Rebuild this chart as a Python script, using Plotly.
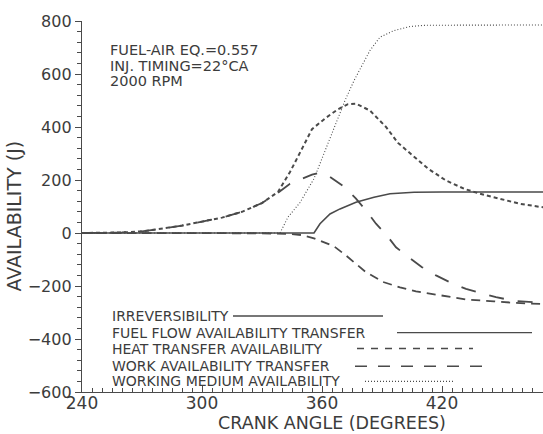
import plotly.graph_objects as go

# ---- data ----
wm_angle = [240, 260, 270, 280, 290, 300, 310, 320, 330, 338, 344, 350, 355, 362, 368, 373, 377, 384, 392, 398, 405, 413, 422, 431, 439, 449, 459, 470.5]
wm_value = [0, 2, 6, 16, 28, 43, 58, 80, 113, 155, 230, 318, 392, 435, 467, 486, 488, 462, 400, 340, 295, 243, 198, 167, 148, 129, 110, 97]

work_angle = [240, 260, 270, 280, 290, 300, 310, 320, 330, 338, 344, 350, 355, 359, 364, 371, 377, 382, 387, 392, 397, 404, 410, 417, 424, 432, 440, 447, 456, 470.5]
work_value = [0, 2, 6, 16, 28, 43, 58, 80, 113, 152, 186, 205, 220, 228, 212, 175, 130, 85, 35, -5, -54, -95, -129, -160, -186, -211, -229, -242, -256, -263]

heat_angle = [240, 300, 330, 345, 350, 356, 362, 366, 372, 377, 382, 391, 399, 407, 419, 432, 446, 457, 470.5]
heat_value = [0, 0, -1, -4, -8, -20, -38, -50, -85, -118, -148, -186, -205, -220, -236, -251, -258, -264, -268]

irr_angle = [240, 356, 359, 364, 369, 377, 386, 394, 406, 420, 470.5]
irr_value = [0, 0, 35, 72, 91, 116, 135, 148, 154, 155, 155]

fuel_angle = [240, 339, 343, 349, 356, 362, 367, 371.5, 376, 384, 389, 396, 404, 412, 470.5]
fuel_value = [0, 0, 60, 115, 205, 318, 418, 500, 575, 689, 739, 764, 779, 784, 785]

x_ticks = [240, 300, 360, 420]
y_ticks = [-600, -400, -200, 0, 200, 400, 600, 800]

info_lines = ["FUEL-AIR EQ.=0.557", "INJ. TIMING=22°CA", "2000 RPM"]
legend_labels = ["IRREVERSIBILITY", "FUEL FLOW AVAILABILITY TRANSFER",
                 "HEAT TRANSFER AVAILABILITY", "WORK AVAILABILITY TRANSFER",
                 "WORKING MEDIUM AVAILABILITY"]

LC = "#4a4a4a"
TC = "#3c3c3c"
FONT = "DejaVu Sans"

fig = go.Figure()
fig.add_trace(go.Scatter(x=irr_angle, y=irr_value, mode="lines",
                         line=dict(color=LC, width=1.6)))
fig.add_trace(go.Scatter(x=fuel_angle, y=fuel_value, mode="lines",
                         line=dict(color=LC, width=1.1, dash="1px,2px")))
fig.add_trace(go.Scatter(x=heat_angle, y=heat_value, mode="lines",
                         line=dict(color=LC, width=1.8, dash="9px,6px")))
fig.add_trace(go.Scatter(x=work_angle, y=work_value, mode="lines",
                         line=dict(color=LC, width=1.8, dash="15px,14px")))
fig.add_trace(go.Scatter(x=wm_angle, y=wm_value, mode="lines",
                         line=dict(color=LC, width=2.0, dash="4px,3px")))

# info text
info_y = [689, 632, 575]
for t, yy in zip(info_lines, info_y):
    fig.add_annotation(x=253, y=yy, xref="x", yref="y", text=t, showarrow=False,
                       xanchor="left", yanchor="middle",
                       font=dict(family=FONT, size=14.5, color=TC))

# legend (text followed by line sample)
leg_y = [-313, -376, -436, -503, -560]
leg_x0 = [315.5, 397.5, 377.5, 376.5, 381.5]
leg_x1 = [390.5, 465, 435.5, 444, 425.5]
leg_dash = ["solid", "solid", "7px,7px", "12px,11px", "1px,2px"]
leg_w = [1.4, 1.4, 1.6, 1.6, 1.1]
for t, yy, a, b, d, w in zip(legend_labels, leg_y, leg_x0, leg_x1, leg_dash, leg_w):
    fig.add_annotation(x=254, y=yy, xref="x", yref="y", text=t, showarrow=False,
                       xanchor="left", yanchor="middle",
                       font=dict(family=FONT, size=14, color=TC))
    fig.add_shape(type="line", xref="x", yref="y", x0=a, x1=b, y0=yy, y1=yy,
                  line=dict(color=LC, width=w, dash=d))

# axis titles
fig.add_annotation(x=0.542, y=-0.083, xref="paper", yref="paper",
                   text="CRANK ANGLE (DEGREES)", showarrow=False,
                   xanchor="center", yanchor="middle",
                   font=dict(family=FONT, size=17.5, color=TC))
fig.add_annotation(x=-0.148, y=0.475, xref="paper", yref="paper",
                   text="AVAILABILITY (J)", showarrow=False, textangle=-90,
                   xanchor="center", yanchor="middle",
                   font=dict(family=FONT, size=19, color=TC))

fig.update_layout(
    width=543, height=434,
    margin=dict(l=82, r=0, t=21, b=42),
    paper_bgcolor="white", plot_bgcolor="white",
    showlegend=False,
)
fig.update_xaxes(range=[240, 470.5], tickvals=x_ticks, ticks="inside", ticklen=6,
                 tickcolor=LC, tickwidth=1.2, ticklabelstandoff=-5,
                 showline=True, linecolor=LC, linewidth=1.4, showgrid=False,
                 zeroline=False, tickfont=dict(family=FONT, size=17, color=TC),
                 minor=dict(dtick=5, ticks="inside", ticklen=4, tickcolor=LC, tickwidth=1, showgrid=False))
fig.update_yaxes(range=[-600, 800], tickvals=y_ticks, ticks="outside", ticklen=6,
                 tickcolor=LC, tickwidth=1.2,
                 showline=True, linecolor=LC, linewidth=1.4, showgrid=False,
                 zeroline=False, tickfont=dict(family=FONT, size=16, color=TC),
                 minor=dict(dtick=40, ticks="outside", ticklen=4, tickcolor=LC, tickwidth=1, showgrid=False))

fig.write_html("out.html")
